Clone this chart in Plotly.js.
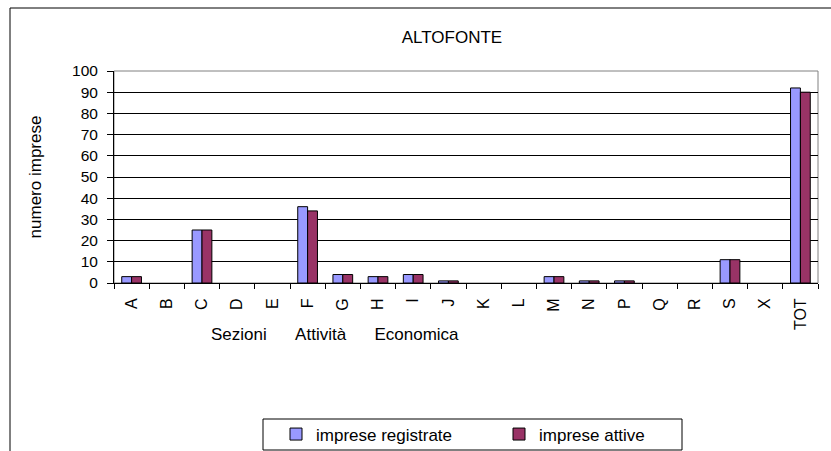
<!DOCTYPE html>
<html>
<head>
<meta charset="utf-8">
<script src="https://cdn.plot.ly/plotly-3.0.1.min.js"></script>
<style>
  html, body { margin: 0; padding: 0; background: #fff; }
  #chart { width: 831px; height: 451px; }
</style>
</head>
<body>
<div id="chart"></div>
<script>
const categories = ["A","B","C","D","E","F","G","H","I","J","K","L","M","N","P","Q","R","S","X","TOT"];
const impreseRegistrate = [3,0,25,0,0,36,4,3,4,1,0,0,3,1,1,0,0,11,0,92];
const impreseAttive     = [3,0,25,0,0,34,4,3,4,1,0,0,3,1,1,0,0,11,0,90];
const yTickValues = [0,10,20,30,40,50,60,70,80,90,100];
const chartTitle = "ALTOFONTE";
const yTitle = "numero imprese";
const xTitle = "Sezioni\u00a0\u00a0\u00a0\u00a0\u00a0\u00a0Attività\u00a0\u00a0\u00a0\u00a0\u00a0\u00a0Economica";
const seriesNames = ["imprese registrate", "imprese attive"];

const FONT = "'Liberation Sans', Arial, sans-serif";
const W = 831, H = 451;
const L = 114, R = 13, T = 71, B = 168;
const PW = W - L - R, PH = H - T - B;
const px = x => (x - L) / PW;        // pixel -> paper x
const py = y => (H - B - y) / PH;    // pixel -> paper y

const outline = vals => vals.map(v => (v === 0 ? 0 : 1));

const traces = [
  {
    type: "bar", name: seriesNames[0], x: categories, y: impreseRegistrate,
    marker: { color: "#9999FF", line: { color: "#000000", width: outline(impreseRegistrate) } },
    hoverinfo: "skip"
  },
  {
    type: "bar", name: seriesNames[1], x: categories, y: impreseAttive,
    marker: { color: "#993366", line: { color: "#000000", width: outline(impreseAttive) } },
    hoverinfo: "skip"
  }
];

const layout = {
  width: W, height: H,
  margin: { l: L, r: R, t: T, b: B, pad: 0, autoexpand: false },
  paper_bgcolor: "#ffffff",
  plot_bgcolor: "#ffffff",
  font: { family: FONT, size: 17, color: "#000000" },
  title: {
    text: chartTitle,
    font: { family: FONT, size: 17, color: "#000000" },
    xref: "paper", x: px(452), xanchor: "center",
    yref: "container", y: 1 - 37 / H, yanchor: "middle"
  },
  barmode: "group",
  bargap: 0.44,
  bargroupgap: 0,
  showlegend: true,
  legend: {
    orientation: "h",
    xref: "container", yref: "container",
    x: 276 / W, xanchor: "left",
    y: 1 - 434.5 / H, yanchor: "middle",
    bgcolor: "rgba(0,0,0,0)",
    borderwidth: 0,
    entrywidth: 178,
    font: { family: FONT, size: 17, color: "#000000" },
    traceorder: "normal"
  },
  xaxis: {
    type: "category",
    tickvals: categories,
    ticktext: categories,
    tickangle: -90,
    tickson: "boundaries",
    ticks: "outside", ticklen: 5, tickwidth: 1, tickcolor: "#000000",
    ticklabelstandoff: 8,
    showline: true, linecolor: "#000000", linewidth: 1,
    showgrid: false, zeroline: false,
    tickfont: { family: FONT, size: 16, color: "#000000" },
    automargin: false,
    fixedrange: true
  },
  yaxis: {
    range: [0, 100],
    tickvals: yTickValues,
    ticks: "outside", ticklen: 6, tickwidth: 1, tickcolor: "#000000",
    ticklabelstandoff: 6,
    showline: true, linecolor: "#000000", linewidth: 1,
    showgrid: true, gridcolor: "#000000", gridwidth: 1,
    zeroline: false,
    tickfont: { family: FONT, size: 15.5, color: "#000000" },
    title: { text: yTitle, font: { family: FONT, size: 17, color: "#000000" }, standoff: 26 },
    automargin: false,
    fixedrange: true
  },
  annotations: [
    {
      text: xTitle, showarrow: false,
      xref: "paper", yref: "paper",
      x: px(334.5), xanchor: "center",
      y: py(334), yanchor: "middle",
      font: { family: FONT, size: 17, color: "#000000" }
    }
  ],
  shapes: [
    // outer chart frame (extends beyond the image at right/bottom)
    { type: "rect", xref: "paper", yref: "paper",
      x0: px(10), x1: px(900), y0: py(520), y1: py(8),
      line: { color: "#000000", width: 1 }, fillcolor: "rgba(0,0,0,0)", layer: "below" },
    // plot area frame (grey top / right)
    { type: "rect", xref: "paper", yref: "paper",
      x0: 0, x1: 1, y0: 0, y1: 1,
      line: { color: "#808080", width: 1 }, fillcolor: "rgba(0,0,0,0)", layer: "between" },
    // legend box
    { type: "rect", xref: "paper", yref: "paper",
      x0: px(263), x1: px(682), y0: py(450), y1: py(419),
      line: { color: "#000000", width: 1 }, fillcolor: "rgba(0,0,0,0)", layer: "below" }
  ]
};

Plotly.newPlot("chart", traces, layout, { displayModeBar: false, staticPlot: true });
</script>
</body>
</html>
